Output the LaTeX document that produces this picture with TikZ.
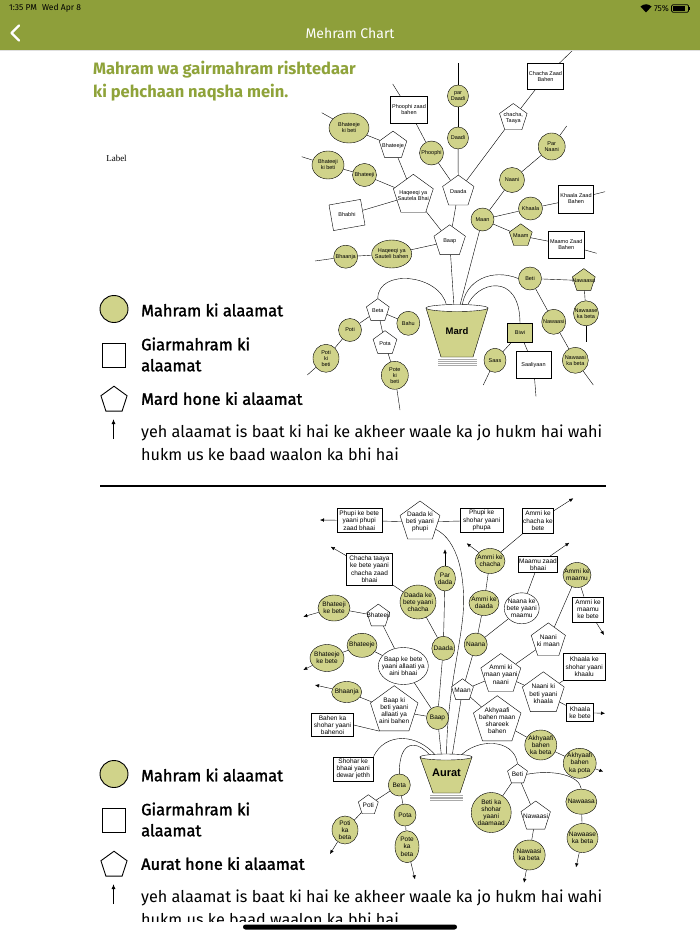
\documentclass[tikz,border=0pt]{standalone}
\usepackage{fontspec}
\setmainfont{Fira Sans}
\newfontfamily\arialfont{Liberation Sans}
\newfontfamily\serffont{Liberation Serif}
\newfontfamily\legfont[FakeBold=1.6]{Fira Sans}
\usepackage{tikz}
\usetikzlibrary{arrows.meta}
\usetikzlibrary{shapes.geometric,backgrounds}
\pgfdeclarelayer{paper}
\pgfsetlayers{paper,background,main}
\definecolor{hdrgreen}{RGB}{142,159,58}
\definecolor{ttlgreen}{RGB}{143,163,58}
\definecolor{mfill}{RGB}{208,211,138}
\definecolor{standgray}{RGB}{170,170,170}

\begin{document}
\begin{tikzpicture}[x=1pt,y=-1pt,line width=0.6pt,
    every node/.style={inner sep=0pt,align=center},
    mh/.style 2 args={ellipse,draw,fill=mfill,minimum width=#1,minimum height=#2},
    wh/.style 2 args={ellipse,draw,fill=white,minimum width=#1,minimum height=#2},
    gm/.style 2 args={rectangle,draw,fill=white,minimum width=#1,minimum height=#2},
    pt/.style={regular polygon,regular polygon sides=5,draw,fill=white,minimum size=#1},
    ptf/.style={pt=#1,fill=mfill},
    t/.style={label={center:#1}},
    arr/.style={-{Latex[length=4pt,width=3.5pt]}},
    legtxt/.style={anchor=west,align=left,font=\legfont\fontsize{16.4}{21}\selectfont},
    bodytxt/.style={anchor=west,align=left,font=\fontsize{16.2}{22.5}\selectfont}]
  \useasboundingbox (0,0) rectangle (700,934);
  \begin{pgfonlayer}{paper}
    \fill[white] (0,0) rectangle (700,934);
  \end{pgfonlayer}

  \fill[hdrgreen] (0,0) rectangle (700,50);
  \draw[black!12] (0,50.6) -- (700,50.6);
  \node[anchor=west,font=\fontsize{8.5}{9}\selectfont] (clock) at (9,8.5) {1:35 PM\hspace{5pt}Wed Apr 8};
  \node[anchor=east,font=\fontsize{8.5}{9}\selectfont] (batpct) at (669,8.5) {75\%};
  \fill (646,12.5) -- (640.5,6.5) .. controls (644,3.5) and (648,3.5) .. (651.5,6.5) -- cycle;
  \draw[line width=0.7pt,rounded corners=1.2pt] (671.5,4.8) rectangle (688.5,12.2);
  \fill (673,6.3) rectangle (685,10.7);
  \fill (689.4,7.2) rectangle (690.4,9.8);
  \draw[white,line width=2.3pt,line cap=round,line join=round] (19,25.5) -- (11.5,33) -- (19,40.5);
  \node[text=white,font=\fontsize{14}{14}\selectfont] (hdrtitle) at (350,33) {Mehram Chart};

  \node[anchor=west,align=left,text=ttlgreen,font=\bfseries\fontsize{16.5}{23}\selectfont] (pagetitle)
    at (93,81) {Mahram wa gairmahram rishtedaar\\ki pehchaan naqsha mein.};
  \node[font=\serffont\fontsize{9}{10}\selectfont] (lbl) at (116.5,158) {Label};

  \begin{scope}
    \clip (0,0) rectangle (700,921.5);
    \foreach \dy/\who/\sfx in {0/Mard/a, 465/Aurat/b}{
      \node[ellipse,draw,fill=mfill,line width=0.9pt,minimum width=28,minimum height=27] (lgmahram\sfx) at (114,309+\dy) {};
      \node[legtxt] (lgmahramtxt\sfx) at (141,310+\dy) {Mahram ki alaamat};
      \node[rectangle,draw,line width=0.9pt,minimum width=23,minimum height=24] (lggair\sfx) at (114,355+\dy) {};
      \node[legtxt] (lggairtxt\sfx) at (141,354.5+\dy) {Giarmahram ki\\alaamat};
      \node[regular polygon,regular polygon sides=5,draw,line width=0.9pt,minimum size=27.5] (lgpent\sfx) at (114,400+\dy) {};
      \node[legtxt] (lgpenttxt\sfx) at (141,398.5+\dy) {\who\ hone ki alaamat};
      \coordinate (lgarrlow\sfx) at (113.5,439+\dy);
      \coordinate (lgarrtop\sfx) at (113.5,419+\dy);
      \draw[-{Latex[length=5pt,width=4pt]},line width=0.9pt] (lgarrlow\sfx) -- (lgarrtop\sfx);
      \node[bodytxt] (lgnote\sfx) at (141,443+\dy)
        {yeh alaamat is baat ki hai ke akheer waale ka jo hukm hai wahi\\hukm us ke baad waalon ka bhi hai};
    }
  \end{scope}
  \coordinate (sepl) at (100,486);
  \coordinate (sepr) at (606,486);
  \draw[line width=1.3pt] (sepl) -- (sepr);
  \fill[rounded corners=2.5pt] (243,924.5) rectangle (457,929.5);

  % mard
  \begin{scope}[font=\arialfont\fontsize{5.5}{6}\selectfont]
    \node[mh={21}{22},t={par\\Daadi}] (pardaadi) at (458,96) {};
    \node[mh={21}{22},t=Daadi] (daadi) at (458,138) {};
    \node[pt=33,t=Daada] (daada) at (458.3,191.6) {};
    \node[mh={24}{24},t=Phoophi] (phoophi) at (431.5,153) {};
    \node[gm={37}{27},t={Phoophi zaad\\bahen}] (phzbahen) at (409,110) {};
    \node[pt=29,t={chacha,\\Taaya}] (chtaaya) at (513.3,118) {};
    \node[gm={36}{26},t={Chacha Zaad\\Bahen}] (chzbahen) at (545.5,76.5) {};
    \node[mh={40}{30},t={Bhateeje\\ki beti}] (bjekbeti) at (349,128) {};
    \node[pt=29,t=Bhateeje] (bhateeje) at (393,145.6) {};
    \node[mh={32}{28},t={Bhateeji\\ki beti}] (bjikbeti) at (328,165) {};
    \node[mh={24}{23},t=Bhateeji] (bhateeji) at (364.5,175) {};
    \node[pt=42,t={Haqeeqi ya\\Sautela Bhai}] (hbhai) at (413.3,195.3) {};
    \node[gm={32}{26},rotate=10,t=Bhabhi] (bhabhi) at (347,215) {};
    \node[mh={27}{27},t={Par\\Naani}] (parnaani) at (551.7,146.5) {};
    \node[mh={25}{25},t=Naani] (naani) at (512,180) {};
    \node[mh={23}{23},t=Maan] (maan) at (482.5,219.5) {};
    \node[mh={24}{23},t=Khaala] (khaala) at (530.5,208.5) {};
    \node[gm={35}{28},t={Khaala Zaad\\Bahen}] (khzbahen) at (576,199) {};
    \node[ptf=24,t=Maam] (maam) at (520.8,235.8) {};
    \node[gm={36}{27},t={Maamo Zaad\\Bahen}] (mmzbahen) at (566.2,244.7) {};
    \node[pt=33,t=Baap] (baap) at (449.7,241.3) {};
    \node[mh={40}{28},t={Haqeeqi ya\\Sauteli bahen}] (hbahen) at (391.7,254) {};
    \node[mh={24}{23},t=Bhaanja] (bhaanja) at (345.7,256.7) {};
    \node[pt=24,t=Beta] (beta) at (377.8,310.6) {};
    \node[mh={23}{24},t=Bahu] (bahu) at (408.3,323.3) {};
    \node[mh={23}{23},t=Poti] (poti) at (350,330) {};
    \node[mh={26}{28},t={Poti\\ki\\beti}] (potikbeti) at (326,358.3) {};
    \node[pt=25,t=Pota] (pota) at (385,343.2) {};
    \node[mh={27}{28},t={Pote\\ki\\beti}] (potekbeti) at (394.8,375.3) {};
    \node[gm={25}{19},fill=mfill,t=Biwi] (biwi) at (520,333) {};
    \node[mh={22}{24},t=Saas] (saas) at (495,360.3) {};
    \node[gm={35}{27},t=Saaliyaan] (saaliyaan) at (533.5,365) {};
    \node[mh={23}{23},t=Beti] (beti) at (530,278.5) {};
    \node[ptf=24,t=Nawaasa] (nawaasa) at (583.8,280.6) {};
    \node[mh={25}{25},t={Nawaase\\ka beta}] (nwsekbeta) at (586,313.3) {};
    \node[mh={24}{25},t=Nawaasi] (nawaasi) at (553.7,321.8) {};
    \node[mh={26}{26},t={Nawaasi\\ka beta}] (nwsikbeta) at (575.3,360.3) {};

    \fill[mfill] (426,308) -- (488,308) -- (473,357) -- (441,357) -- cycle;
    \draw (426,308) -- (441,357) -- (473,357) -- (488,308);
    \draw[fill=white] (457,308) ellipse [x radius=31pt,y radius=3.5pt];
    \foreach \yy in {359,361,363,365}
      \draw[standgray] (438,\yy) -- (477,\yy);
    \node[font=\arialfont\bfseries\fontsize{9.5}{10}\selectfont] (mard) at (457,331) {Mard};
    \coordinate (mc1) at (446.5,305.5);
    \coordinate (mc2) at (454,307);
    \coordinate (mc3) at (459.5,307);
    \coordinate (mc4) at (462,307);
    \coordinate (mc5) at (467,307);
  \end{scope}

  % aurat
  \begin{scope}[font=\arialfont\fontsize{6.5}{7.2}\selectfont]
    \node[gm={45}{24},t={Phupi ke bete\\yaani phupi\\zaad bhaai}] (phkbete) at (359.2,520.5) {};
    \node[pt=42,t={Daada ki\\beti yaani\\phupi}] (dkbeti) at (420,522) {};
    \node[gm={43}{24},t={Phupi ke\\shohar yaani\\phupa}] (phkshohar) at (481.7,520.5) {};
    \node[gm={31}{25},t={Ammi ke\\chacha ke\\bete}] (akckbete) at (538,520.8) {};
    \node[mh={30}{25},t={Ammi ke\\chacha}] (akchacha) at (490,561) {};
    \node[gm={46}{32},t={Chacha taaya\\ke bete yaani\\chacha zaad\\bhaai}] (ctkbete) at (369.5,569.2) {};
    \node[mh={21}{25},t={Par\\dada}] (pardada) at (445,578.5) {};
    \node[gm={39}{16},t={Maamu zaad\\bhaai}] (mmzbhaai) at (538,564.5) {};
    \node[mh={28}{25},t={Ammi ke\\maamu}] (akmaamu) at (577,575) {};
    \node[mh={36}{34},t={Daada ke\\bete yaani\\chacha}] (dkbchacha) at (418,602) {};
    \node[mh={30}{25},t={Ammi ke\\daada}] (akdaada) at (484,603) {};
    \node[wh={35}{31},t={Naana ke\\bete yaani\\maamu}] (nkbmaamu) at (521.7,608.3) {};
    \node[gm={31}{25},t={Ammi ke\\maamu\\ke bete}] (akmkbete) at (588,609.2) {};
    \node[mh={32}{26},t={Bhateeji\\ke bete}] (bjikbete) at (334,608) {};
    \node[pt=24,t=Bhateeji] (bhateeji2) at (378.3,616.1) {};
    \node[pt=36,t={Naani\\ki maan}] (nkmaan) at (548.3,640.9) {};
    \node[mh={30}{24},t=Bhateeje] (bhateeje2) at (362,645.3) {};
    \node[mh={23}{24},t=Daada] (daada2) at (443.3,648.3) {};
    \node[mh={23}{23},t=Naana] (naana) at (475.7,644.5) {};
    \node[mh={34}{27},t={Bhateeje\\ke bete}] (bjekbete) at (327,658) {};
    \node[wh={50}{37},t={Baap ke bete\\yaani allaati ya\\aini bhaai}] (bkballaati) at (403.3,666) {};
    \node[pt=42,t={Ammi ki\\maan yaani\\naani}] (akmnaani) at (500.8,674.5) {};
    \node[gm={42}{27},t={Khaala ke\\shohar yaani\\khaalu}] (khkshohar) at (584.2,666.7) {};
    \node[pt=23,t=Maan] (maan2) at (462.5,690.3) {};
    \node[pt=44,t={Naani ki\\beti yaani\\khaala}] (nbkhaala) at (543.3,693.8) {};
    \node[mh={30}{21},t=Bhaanja] (bhaanja2) at (346.7,692) {};
    \node[pt=50,t={Baap ki\\beti yaani\\allaati ya\\aini bahen}] (bkballaatib) at (394.2,710.7) {};
    \node[gm={27}{18},t={Khaala\\ke bete}] (khkbete) at (580,712.5) {};
    \node[gm={42}{23},t={Bahen ka\\shohar yaani\\bahenoi}] (bkshohar) at (332.5,725) {};
    \node[mh={22}{23},t=Baap] (baap2) at (437.5,718) {};
    \node[pt=50,t={Akhyaafi\\bahen maan\\shareek\\bahen}] (akhbahen) at (497.2,720.7) {};
    \node[mh={32}{30},t={Akhyaafi\\bahen\\ka beta}] (akhbeta) at (540.8,745) {};
    \node[mh={33}{30},t={Akhyaafi\\bahen\\ka pota}] (akhpota) at (579.7,763.3) {};
    \node[gm={40}{24},t={Shohar ke\\bhaai yaani\\dewar jethh}] (shkbhaai) at (353.3,768.8) {};
    \node[pt=21,t=Beti] (beti2) at (517.5,774.3) {};
    \node[mh={22}{22},t=Beta] (beta2) at (399.3,785) {};
    \node[pt=21,t=Poti] (poti2) at (368.3,805.2) {};
    \node[mh={22}{22},t=Pota] (pota2) at (405,815) {};
    \node[mh={26}{28},t={Poti\\ka\\beta}] (potikbeta) at (345,830) {};
    \node[mh={24}{32},t={Pote\\ka\\beta}] (potekbeta) at (407,846.7) {};
    \node[mh={40}{40},t={Beti ka\\shohar\\yaani\\daamaad}] (daamaad) at (491.2,812.5) {};
    \node[pt=31,t=Nawaasi] (nawaasi2) at (535.7,816.5) {};
    \node[mh={31}{25},t=Nawaasa] (nawaasa2) at (581.3,801.7) {};
    \node[mh={31}{29},t={Nawaase\\ka beta}] (nwsekbeta2) at (582.5,838) {};
    \node[mh={32}{30},t={Nawaasi\\ka beta}] (nwsikbeta2) at (529.2,855) {};

    \fill[mfill] (420,757) -- (472,757) -- (460,793) -- (433,793) -- cycle;
    \draw (420,757) -- (433,793) -- (460,793) -- (472,757);
    \draw[fill=white] (446,757) ellipse [x radius=26pt,y radius=3pt];
    \foreach \yy in {795,796.7,798.4,800}
      \draw[standgray] (430,\yy) -- (463,\yy);
    \node[font=\arialfont\bfseries\fontsize{11}{12}\selectfont] (aurat) at (446.5,773) {Aurat};
    \coordinate (ac1) at (431.5,757);
    \coordinate (ac2) at (436.5,756.5);
    \coordinate (ac3) at (441.5,756.5);
    \coordinate (ac4) at (446.5,756.5);
    \coordinate (ac5) at (452,756.5);
    \coordinate (ac6) at (460,756.5);
  \end{scope}

  \begin{scope}[on background layer]
    \foreach \a/\b in {pardaadi/daadi, daadi/daada, phoophi/daada, phzbahen/phoophi,
        daada/chtaaya, chtaaya/chzbahen, bjekbeti/bhateeje, bhateeje/hbhai,
        bjikbeti/bhateeji, bhateeji/hbhai, bhabhi/hbhai, hbhai/baap, daada/baap,
        naani/parnaani, maan/naani, maan/khaala, khaala/khzbahen, maan/maam,
        maam/mmzbahen, baap/hbahen, hbahen/bhaanja, beta/bahu, beta/poti,
        poti/potikbeti, beta/pota, pota/potekbeti, biwi/saas, biwi/saaliyaan,
        beti/nawaasa, nawaasa/nwsekbeta, beti/nawaasi, nawaasi/nwsikbeta,
        baap/mc2, maan/mc3}
      \draw (\a) -- (\b);
    \foreach \a/\x/\y in {pardaadi/458/63, chzbahen/573/50, phzbahen/392.7/84,
        bjekbeti/321.7/112.7, bjikbeti/301.7/156.7, parnaani/566.7/126,
        khzbahen/605/191.7, mmzbahen/596.7/253.3, bhaanja/315/261,
        potikbeti/307.3/375, potekbeti/400/410, saas/483.3/385,
        saaliyaan/536/396.7, nwsekbeta/586/341.7, nwsikbeta/593.3/385}{
      \coordinate (\a-end) at (\x,\y);
      \draw (\a) -- (\a-end);
    }
    \draw (mc1) .. controls (440,274) and (378,268) .. (beta.north);
    \draw (mc4) .. controls (465,280) and (492,268) .. (beti.west);
    \draw (mc5) .. controls (475,282) and (520,270) .. (biwi.north);

    \foreach \a/\b in {phkbete/dkbeti, dkbeti/phkshohar, akchacha/akckbete,
        akdaada/akchacha, naana/akdaada, naana/nkbmaamu, nkbmaamu/mmzbhaai,
        ctkbete/dkbchacha, dkbchacha/daada2, pardada/daada2, daada2/baap2,
        bjikbete/bhateeji2, bhateeji2/bkballaati, bjekbete/bhateeje2,
        bhateeje2/bkballaati, bkballaati/baap2, bhaanja2/bkballaatib,
        bkballaatib/baap2, naana/maan2, maan2/akmnaani, maan2/akhbahen,
        akmnaani/nkmaan, akmnaani/nbkhaala, nkmaan/akmaamu, akmaamu/akmkbete,
        nbkhaala/khkshohar, nbkhaala/khkbete, akhbahen/akhbeta, akhbeta/akhpota,
        beti2/daamaad, beti2/nawaasi2, nawaasi2/nwsikbeta2, nawaasa2/nwsekbeta2,
        beta2/poti2, poti2/potikbeta, beta2/pota2, pota2/potekbeta,
        baap2/ac3, maan2/ac5}
      \draw (\a) -- (\b);
    \draw (bkshohar.east) -- (bkballaatib.corner 3);
    \foreach \a/\x/\y in {phkbete/320/520, akckbete/573.3/498.3,
        akchacha/466.7/543.3, mmzbhaai/569.3/542.7, ctkbete/330.7/546.7,
        pardada/445/549.3, akmkbete/604/635, bjikbete/303.3/616.7,
        bjekbete/303.3/670, bhaanja2/315/685, khkbete/605/713.3,
        akhpota/603.3/771.7, potikbeta/330/854, potekbeta/415/879.3,
        nwsikbeta2/524/882.7, nwsekbeta2/576/867.3}{
      \coordinate (\a-end) at (\x,\y);
      \draw[arr] (\a) -- (\a-end);
    }
    \draw (dkbeti.-25) .. controls (458,540) and (466,578) .. (463,615)
      .. controls (459,655) and (447,695) .. (ac4);
    \draw (ac2) .. controls (418,733) and (385,732) .. (shkbhaai.north east);
    \draw (ac1) .. controls (418,740) and (399,738) .. (beta2.north);
    \draw (ac6) .. controls (476,738) and (514,738) .. (beti2.north);
    \draw (beti2.east) .. controls (555,769) and (580,776) .. (nawaasa2.north);
  \end{scope}
\end{tikzpicture}
\end{document}
